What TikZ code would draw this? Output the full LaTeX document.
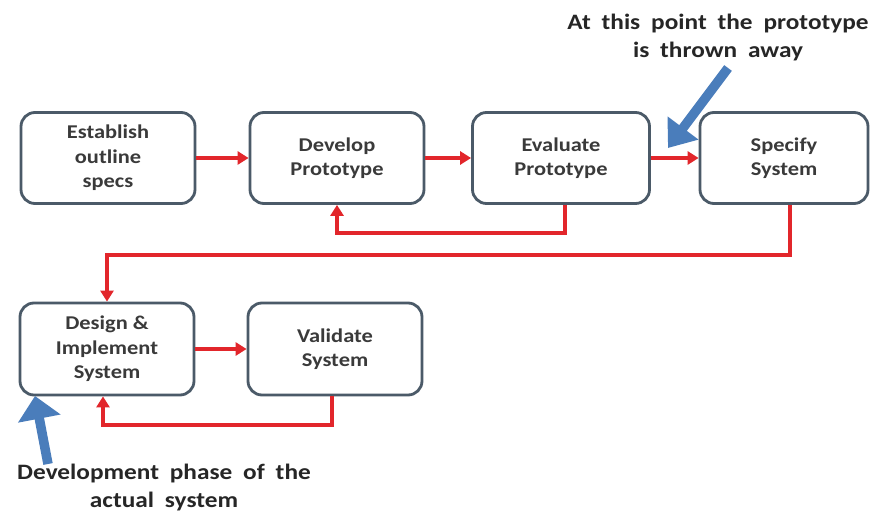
\documentclass[tikz,border=0pt]{standalone}
\usepackage{fontspec}
\setmainfont{Carlito}[FakeStretch=1.15]
\newfontfamily\notefont{Carlito}[FakeStretch=1.15,WordSpace=1.9]
\usetikzlibrary{arrows.meta,positioning,calc}
\definecolor{boxline}{HTML}{4B5A68}
\definecolor{boxtext}{HTML}{3A3A3A}
\definecolor{flowred}{HTML}{E2262B}
\definecolor{noteblue}{HTML}{4A7DBB}
\begin{document}
\begin{tikzpicture}[x=1pt,y=-1pt,
  stepbox/.style={draw=boxline,line width=2.8pt,rounded corners=14pt,fill=white,
    minimum width=174pt,minimum height=91pt,align=center,text=boxtext,
    font=\bfseries\fontsize{19.5}{24.5}\selectfont,inner sep=0pt},
  flow/.style={draw=flowred,line width=3.2pt,-{Triangle[length=11pt,width=13pt]}},
  note/.style={draw=noteblue,line width=9.5pt},
  notetext/.style={align=center,text=black!85,font=\notefont\bfseries\fontsize{22}{28}\selectfont,inner sep=0pt}]
\useasboundingbox (0,0) rectangle (871,516);
\fill[white] (0,0) rectangle (871,516);

\node[stepbox] (b1) at (108,158) {Establish\\outline\\specs};
\node[stepbox] (b2) at (337,158) {Develop\\Prototype};
\node[stepbox,minimum width=177pt] (b3) at (561,158) {Evaluate\\Prototype};
\node[stepbox,minimum width=168pt] (b4) at (784,158) {Specify\\System};
\node[stepbox,minimum height=92pt] (b5) at (107,349) {Design \&\\Implement\\System};
\node[stepbox,minimum height=92pt] (b6) at (335,349) {Validate\\System};

\draw[flow] (b1.east) -- (b2.west);
\draw[flow] (b2.east) -- (b3.west);
\draw[flow] (b3.east) -- (b4.west);
\draw[flow] (b5.east) -- (b6.west);

\coordinate (f1) at (565,233);
\draw[flow] ($(b3.south)+(4,0)$) -- (f1) -| (b2.south);
\coordinate (f2) at (790,255);
\draw[flow] ($(b4.south)+(6,0)$) -- (f2) -| (b5.north);
\coordinate (f3) at (332,425);
\draw[flow] ($(b6.south)+(-3,0)$) -- (f3) -| ($(b5.south)+(-4,0)$);

\node[notetext] (t1) at (718,38) {At this point the prototype\\is thrown away};
\node[notetext] (t2) at (164,488) {Development phase of the\\actual system};

\coordinate (a1s) at (728,68);
\coordinate (a1e) at (668,148);
\draw[note,-{Triangle[length=25pt,width=37pt]}] (a1s) -- (a1e);
\coordinate (a2s) at (48,464);
\coordinate (a2e) at (35,396);
\draw[note,-{Triangle[length=23pt,width=42pt]}] (a2s) -- (a2e);
\end{tikzpicture}
\end{document}
